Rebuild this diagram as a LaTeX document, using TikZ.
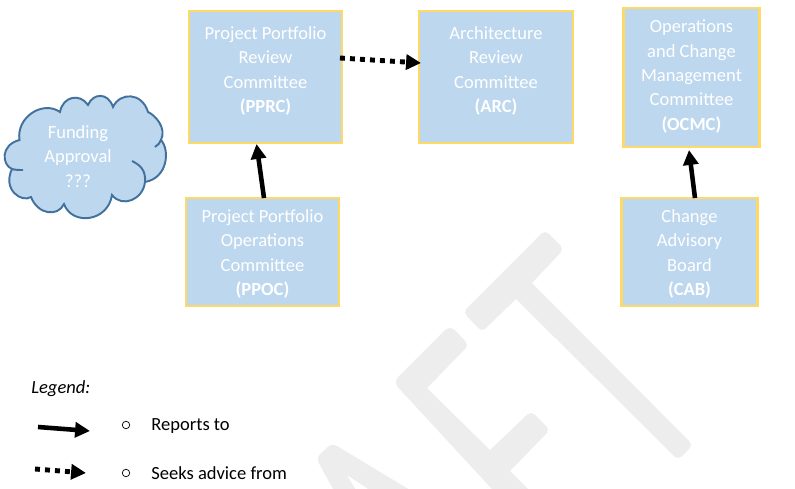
\documentclass[tikz,border=0pt]{standalone}
\usepackage{fontspec}
\setmainfont{Carlito}
\usetikzlibrary{arrows.meta}
\definecolor{boxfill}{HTML}{BDD7EE}
\definecolor{boxline}{HTML}{FFD966}
\definecolor{cloudline}{HTML}{41719C}
\definecolor{markgray}{HTML}{EDEDED}
\newcommand{\boxlines}[2]{\raisebox{#1}[0pt][0pt]{\begin{tabular}{c}#2\end{tabular}}}
\tikzset{
  every node/.style={font=\fontsize{10.55}{13.9}\selectfont},
  boxnode/.style={draw=boxline,fill=boxfill,line width=1.2pt,text=white,inner sep=0pt,outer sep=0pt},
  cloudpath/.style={draw=cloudline,line width=1.1pt},
  reports/.style={line width=2.6pt,-{Triangle[length=8.5pt,width=8.5pt]}},
  advises/.style={line width=2.8pt,dash pattern=on 2.8pt off 2.9pt,-{Triangle[length=8.5pt,width=8.5pt]}},
  legendtext/.style={anchor=west,inner sep=0pt},
  bulletnode/.style={circle,draw,line width=.4pt,minimum size=0.15cm,inner sep=0pt},
}
\begin{document}
\begin{tikzpicture}[x=0.02cm,y=-0.02cm]
      \useasboundingbox (0,0) rectangle (795,489);
      % watermark
      \begin{scope}
        \clip (0,0) rectangle (795,489);
        \fill[markgray,rounded corners=0.1cm] (545,230) -- (564,249) [sharp corners] -- (532,283) [rounded corners=0.1cm] -- (693,445) -- (678,460) [sharp corners] -- (516,299) [rounded corners=0.1cm] -- (482,332) -- (463,312) -- cycle;
        \fill[markgray,rounded corners=0.1cm] (450,325) -- (469,345) [sharp corners] -- (427,388) -- (490,450) [rounded corners=0.1cm] -- (531,411) -- (550,430) [sharp corners] -- (510,471) -- (560,521) -- (540,541) [rounded corners=0.15cm] -- (393,382) -- cycle;
        \fill[markgray,rounded corners=0.1cm] (316,458) -- (332,443) [sharp corners] -- (440,508) -- (398,509) -- (347,475) -- (367,509) -- (344,509) [rounded corners=0.1cm] -- cycle;
      \end{scope}
      % cloud
      \path[cloudpath,fill=boxfill] (19.5,140) .. controls (16,117) and (43,100) .. (60,112)
        .. controls (63,96) and (80,93) .. (88,105)
        .. controls (93,93) and (108,92) .. (113,107)
        .. controls (120,92) and (142,92) .. (148,112)
        .. controls (155,115) and (167,128) .. (161,140)
        .. controls (170,150) and (168,178) .. (145,182)
        .. controls (143,200) and (122,208) .. (112,195)
        .. controls (108,222) and (72,226) .. (64,204)
        .. controls (58,217) and (38,215) .. (31,197)
        .. controls (22,203) and (2,190) .. (12,169)
        .. controls (2,165) and (0,145) .. (19.5,140) -- cycle;
      \draw[cloudpath] (145,182) .. controls (146,170) and (140,165) .. (132,161);
      \draw[cloudpath] (12,169) .. controls (15,170) and (19,170) .. (23,170);
      \draw[cloudpath] (161,140) .. controls (160,143) and (158,145) .. (155,147);
      \node[text=white] (funding) at (78,158) {\begin{tabular}{c} Funding\\ Approval\\ ???\end{tabular}};
      % boxes
      \node[boxnode,minimum width=3.06cm,minimum height=2.64cm] (pprc) at (265.5,77) {\boxlines{0.02cm}{Project Portfolio\\ Review\\ Committee\\ \textbf{(PPRC)}}};
      \node[boxnode,minimum width=3.08cm,minimum height=2.64cm] (arc) at (496,77) {\boxlines{0.02cm}{Architecture\\ Review\\ Committee\\ \textbf{(ARC)}}};
      \node[boxnode,minimum width=2.72cm,minimum height=2.78cm] (ocmc) at (691.5,77.5) {\boxlines{-0.08cm}{Operations\\ and Change\\ Management\\ Committee\\ \textbf{(OCMC)}}};
      \node[boxnode,minimum width=3.06cm,minimum height=2.16cm] (ppoc) at (262.5,252) {\boxlines{-0.14cm}{Project Portfolio\\ Operations\\ Committee\\ \textbf{(PPOC)}}};
      \node[boxnode,minimum width=2.72cm,minimum height=2.16cm] (cab) at (689.5,252) {\boxlines{-0.14cm}{Change\\ Advisory\\ Board\\ \textbf{(CAB)}}};
      % arrows
      \draw[reports] ([xshift=0.03cm]ppoc.north) -- ([xshift=-0.18cm,yshift=-0.02cm]pprc.south);
      \draw[advises] ([xshift=-0.04cm,yshift=0.38cm]pprc.east) -- ([xshift=0.04cm,yshift=0.28cm]arc.west);
      \draw[reports] ([xshift=0.11cm]cab.north) -- ([xshift=-0.05cm,yshift=-0.06cm]ocmc.south);
      % legend
      \node[legendtext] (legend) at (31,389) {\textit{Legend:}};
      \coordinate (reportsa) at (38,427);
      \coordinate (reportsb) at (90,431);
      \coordinate (advisesa) at (35,469);
      \coordinate (advisesb) at (86,473);
      \draw[reports] (reportsa) -- (reportsb);
      \draw[advises] (advisesa) -- (advisesb);
      \node[bulletnode] (bulleta) at (126,425) {};
      \node[bulletnode] (bulletb) at (126,473) {};
      \node[legendtext] (reportstext) at (151,426.5) {Reports to};
      \node[legendtext] (advisestext) at (151,473) {Seeks advice from};
    \end{tikzpicture}
\end{document}
